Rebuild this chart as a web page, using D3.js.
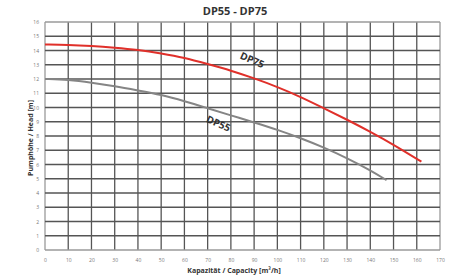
<!DOCTYPE html>
<html>
<head>
<meta charset="utf-8">
<script src="https://cdn.jsdelivr.net/npm/d3@7"></script>
<style>
  body { margin: 0; background: #fff; }
  svg { display: block; font-family: "Open Sans", "DejaVu Sans", sans-serif; }
</style>
</head>
<body>
<div id="chart"></div>
<script>
// Capacity (m3/h) and head (m)
var dp75Q = [0, 10, 20, 30, 40, 50, 60, 70, 80, 90, 100, 110, 120, 130, 140, 150, 162];
var dp75H = [14.42, 14.4, 14.32, 14.2, 14.05, 13.8, 13.5, 13.05, 12.6, 12.05, 11.45, 10.75, 9.95, 9.15, 8.3, 7.4, 6.2];
var dp55Q = [0, 10, 20, 30, 40, 50, 60, 70, 80, 90, 100, 110, 120, 130, 140, 147];
var dp55H = [12, 11.95, 11.75, 11.5, 11.2, 10.9, 10.45, 9.95, 9.45, 8.95, 8.45, 7.85, 7.2, 6.45, 5.6, 4.9];
var xTicks = d3.range(0, 171, 10);
var yTicks = d3.range(0, 17, 1);

function init() {
    var w = 462;
    var h = 277;
    var padding = { top: 22, right: 22, bottom: 27, left: 45 };

    var xScale = d3.scaleLinear().domain([0, 170]).range([padding.left, w - padding.right]);
    var yScale = d3.scaleLinear().domain([0, 16]).range([h - padding.bottom, padding.top]);

    var svg = d3.select("#chart")
        .append("svg")
        .attr("width", w)
        .attr("height", h);

    // Grid
    svg.append("g")
        .selectAll("line")
        .data(xTicks)
        .enter().append("line")
        .attr("x1", d => xScale(d)).attr("x2", d => xScale(d))
        .attr("y1", yScale(0)).attr("y2", yScale(16))
        .attr("stroke", d => (d === 0 || d === 170) ? "#9a9a9a" : "#555")
        .attr("stroke-width", 1.3);

    svg.append("g")
        .selectAll("line")
        .data(yTicks)
        .enter().append("line")
        .attr("x1", xScale(0)).attr("x2", xScale(170))
        .attr("y1", d => yScale(d)).attr("y2", d => yScale(d))
        .attr("stroke", d => (d === 0 || d === 16) ? "#9a9a9a" : "#555")
        .attr("stroke-width", 1.3);

    // Axes (labels only)
    var xAxis = svg.append("g")
        .attr("transform", "translate(0," + yScale(0) + ")")
        .call(d3.axisBottom(xScale).tickValues(xTicks).tickSize(0).tickPadding(8));
    var yAxis = svg.append("g")
        .attr("transform", "translate(" + xScale(0) + ",0)")
        .call(d3.axisLeft(yScale).tickValues(yTicks).tickSize(0).tickPadding(6));
    [xAxis, yAxis].forEach(function(a) {
        a.select(".domain").remove();
        a.selectAll("text").attr("font-size", 5).attr("fill", "#777").attr("font-family", "Open Sans, sans-serif");
    });

    var line = d3.line()
        .x(d => xScale(d[0]))
        .y(d => yScale(d[1]))
        .curve(d3.curveBasis);

    svg.append("path")
        .datum(dp55Q.map((q, i) => [q, dp55H[i]]))
        .attr("fill", "none")
        .attr("stroke", "#858585")
        .attr("stroke-width", 2)
        .attr("d", line);

    svg.append("path")
        .datum(dp75Q.map((q, i) => [q, dp75H[i]]))
        .attr("fill", "none")
        .attr("stroke", "#e0302a")
        .attr("stroke-width", 2)
        .attr("d", line);

    // Curve labels
    svg.append("text")
        .attr("transform", "translate(" + xScale(88.5) + "," + yScale(13.1) + ") rotate(24)")
        .attr("text-anchor", "middle")
        .attr("font-size", 10).attr("font-weight", "bold").attr("fill", "#333")
        .text("DP75");
    svg.append("text")
        .attr("transform", "translate(" + xScale(74) + "," + yScale(8.65) + ") rotate(24)")
        .attr("text-anchor", "middle")
        .attr("font-size", 10).attr("font-weight", "bold").attr("fill", "#333")
        .text("DP55");

    // Title and axis labels
    svg.append("text")
        .attr("x", 235).attr("y", 15)
        .attr("text-anchor", "middle")
        .attr("font-size", 11).attr("font-weight", "bold").attr("fill", "#333")
        .text("DP55 - DP75");

    svg.append("text")
        .attr("x", 234).attr("y", 273)
        .attr("text-anchor", "middle")
        .attr("font-size", 7).attr("font-weight", "bold").attr("fill", "#333")
        .text("Kapazität / Capacity [m³/h]");

    svg.append("text")
        .attr("transform", "rotate(-90)")
        .attr("x", -138).attr("y", 33)
        .attr("text-anchor", "middle")
        .attr("font-size", 7).attr("font-weight", "bold").attr("fill", "#333")
        .text("Pumphöhe / Head [m]");
}

window.onload = init;
</script>
</body>
</html>
